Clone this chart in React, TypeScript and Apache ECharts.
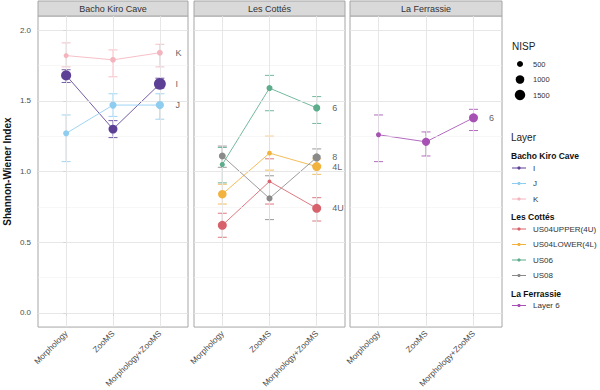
import React, { useEffect, useRef } from 'react';
import * as echarts from 'echarts';

const categories = ['Morphology', 'ZooMS', 'Morphology+ZooMS'];
const sites = ['Bacho Kiro Cave', 'Les Cottés', 'La Ferrassie'];
const yTicks = [0, 0.5, 1, 1.5, 2];
const yMinorTicks = [0.25, 0.75, 1.25, 1.75];
const nispBreaks = [500, 1000, 1500];

const layerNames = ['I', 'J', 'K', 'US04UPPER(4U)', 'US04LOWER(4L)', 'US06', 'US08', 'Layer 6'];
const layerShort = ['I', 'J', 'K', '4U', '4L', '6', '8', '6'];
const layerSite = [0, 0, 0, 1, 1, 1, 1, 2];
const layerColors = ['#5c4096', '#8ecdf0', '#f4b4bd', '#d8626b', '#f2b23e', '#5cad8c', '#8a8a8a', '#a651b3'];

// Shannon-Wiener index per layer: [Morphology, ZooMS, Morphology+ZooMS]
const shannon = [
  [1.68, 1.30, 1.62],
  [1.27, 1.47, 1.47],
  [1.82, 1.79, 1.84],
  [0.62, 0.93, 0.74],
  [0.84, 1.13, 1.035],
  [1.05, 1.59, 1.45],
  [1.11, 0.81, 1.10],
  [1.26, 1.21, 1.38],
];
const shannonLow = [
  [1.63, 1.24, 1.59],
  [1.07, 1.39, 1.37],
  [1.74, 1.67, 1.74],
  [0.535, 0.77, 0.65],
  [0.77, 1.01, 0.98],
  [0.92, 1.43, 1.34],
  [1.03, 0.66, 1.04],
  [1.07, 1.11, 1.29],
];
const shannonHigh = [
  [1.72, 1.36, 1.66],
  [1.40, 1.55, 1.55],
  [1.91, 1.86, 1.90],
  [0.705, 1.09, 0.815],
  [0.91, 1.25, 1.09],
  [1.17, 1.68, 1.53],
  [1.18, 0.97, 1.16],
  [1.40, 1.28, 1.44],
];
const nisp = [
  [1400, 1100, 1950],
  [500, 700, 900],
  [350, 450, 480],
  [1100, 200, 1100],
  [1000, 300, 1100],
  [350, 500, 700],
  [650, 500, 900],
  [350, 900, 1100],
];

const FONT = 'Liberation Sans, Arial, Helvetica, sans-serif';
const sizeOf = (n: number) => 0.27 * Math.sqrt(n);

const panelLeft = [38, 194, 350];
const panelWidth = [150, 151, 152];
const panelTop = 16;
const panelHeight = 320;

export default function App() {
  const ref = useRef<HTMLDivElement>(null);
  useEffect(() => {
    if (!ref.current) return;
    const chart = echarts.init(ref.current, undefined, { renderer: 'svg' });

    const grids = sites.map((_, g) => ({
      left: panelLeft[g],
      top: panelTop,
      width: panelWidth[g],
      height: panelHeight,
      show: true,
      backgroundColor: '#ffffff',
      borderColor: '#a6a6a6',
      borderWidth: 1,
    }));

    const xAxes = sites.map((_, g) => ({
      type: 'value',
      gridIndex: g,
      min: -0.6,
      max: 2.6,
      axisLine: { show: false },
      splitLine: { show: false },
      axisTick: { show: true, customValues: [0, 1, 2], length: 3, lineStyle: { color: '#555' } },
      axisLabel: {
        show: true,
        customValues: [0, 1, 2],
        formatter: (v: number) => categories[Math.round(v)] ?? '',
        rotate: 45,
        fontSize: 8.3,
        color: '#4d4d4d',
        margin: 5,
        fontFamily: FONT,
      },
    }));

    const yAxes = sites.map((_, g) => ({
      type: 'value',
      gridIndex: g,
      min: -0.1,
      max: 2.1,
      axisLine: { show: false },
      splitLine: { show: false },
      name: g === 0 ? 'Shannon-Wiener Index' : '',
      nameLocation: 'middle',
      nameGap: 26,
      nameTextStyle: { fontWeight: 'bold', fontSize: 10, color: '#111', fontFamily: FONT },
      axisTick: { show: g === 0, customValues: yTicks, length: 3, lineStyle: { color: '#555' } },
      axisLabel: {
        show: g === 0,
        customValues: yTicks,
        formatter: (v: number) => v.toFixed(1),
        fontSize: 8,
        color: '#4d4d4d',
        margin: 7,
        fontFamily: FONT,
      },
    }));

    const series: any[] = [];
    sites.forEach((_, g) => {
      series.push({
        type: 'line',
        xAxisIndex: g,
        yAxisIndex: g,
        data: [],
        z: 1,
        silent: true,
        markLine: {
          silent: true,
          symbol: ['none', 'none'],
          label: { show: false },
          animation: false,
          data: [
            ...yMinorTicks.map((v) => ({ yAxis: v, lineStyle: { color: '#f2f2f2', width: 0.6, type: 'solid' } })),
            ...yTicks.map((v) => ({ yAxis: v, lineStyle: { color: '#e4e4e4', width: 0.9, type: 'solid' } })),
            ...categories.map((_, i) => ({ xAxis: i, lineStyle: { color: '#e4e4e4', width: 0.9, type: 'solid' } })),
          ],
        },
      });
    });

    layerNames.forEach((name, k) => {
      const g = layerSite[k];
      const color = layerColors[k];
      series.push({
        type: 'line',
        name,
        xAxisIndex: g,
        yAxisIndex: g,
        data: categories.map((_, i) => [i, shannon[k][i]]),
        symbol: 'none',
        lineStyle: { color, width: 1, opacity: 0.85 },
        z: 3,
      });
      series.push({
        type: 'custom',
        name: name + ' err',
        xAxisIndex: g,
        yAxisIndex: g,
        data: categories.map((_, i) => [i, shannonLow[k][i], shannonHigh[k][i]]),
        encode: { x: 0, y: [1, 2] },
        z: 4,
        renderItem: (params: any, api: any) => {
          const x = api.value(0);
          const lo = api.value(1);
          const hi = api.value(2);
          const pHi = api.coord([x, hi]);
          const pLo = api.coord([x, lo]);
          const w = 4.5;
          const st = { stroke: color, lineWidth: 1, opacity: 0.85 };
          return {
            type: 'group',
            children: [
              { type: 'line', shape: { x1: pHi[0], y1: pHi[1], x2: pLo[0], y2: pLo[1] }, style: st },
              { type: 'line', shape: { x1: pHi[0] - w, y1: pHi[1], x2: pHi[0] + w, y2: pHi[1] }, style: st },
              { type: 'line', shape: { x1: pLo[0] - w, y1: pLo[1], x2: pLo[0] + w, y2: pLo[1] }, style: st },
            ],
          };
        },
      });
      series.push({
        type: 'scatter',
        name: name + ' pts',
        xAxisIndex: g,
        yAxisIndex: g,
        data: categories.map((_, i) => [i, shannon[k][i], nisp[k][i]]),
        symbol: 'circle',
        symbolSize: (val: number[]) => sizeOf(val[2]),
        itemStyle: { color, opacity: 1 },
        z: 5,
      });
      const last = categories.length - 1;
      series.push({
        type: 'scatter',
        name: name + ' lbl',
        xAxisIndex: g,
        yAxisIndex: g,
        data: [[last, shannon[k][last]]],
        symbol: 'circle',
        symbolSize: 1,
        itemStyle: { color: 'rgba(0,0,0,0)' },
        z: 6,
        label: {
          show: true,
          position: 'right',
          distance: 15,
          formatter: () => layerShort[k],
          fontSize: 9,
          color: '#333',
          fontFamily: FONT,
        },
      });
    });

    const graphic: any[] = [];
    sites.forEach((s, g) => {
      graphic.push({
        type: 'rect',
        shape: { x: panelLeft[g], y: 1, width: panelWidth[g], height: panelTop - 1 },
        style: { fill: '#d9d9d9', stroke: '#a6a6a6', lineWidth: 1 },
      });
      graphic.push({
        type: 'text',
        x: panelLeft[g] + panelWidth[g] / 2,
        y: 1 + (panelTop - 1) / 2,
        style: { text: s, fontSize: 9, fill: '#333', align: 'center', verticalAlign: 'middle', fontFamily: FONT },
      });
    });

    // NISP legend
    graphic.push({
      type: 'text', x: 512, y: 46,
      style: { text: 'NISP', fontSize: 10, fill: '#222', verticalAlign: 'middle', fontFamily: FONT },
    });
    nispBreaks.forEach((b, i) => {
      const y = 64 + i * 15.5;
      graphic.push({ type: 'circle', shape: { cx: 520, cy: y, r: sizeOf(b) / 2 }, style: { fill: '#000' } });
      graphic.push({
        type: 'text', x: 533, y,
        style: { text: String(b), fontSize: 7.5, fill: '#333', verticalAlign: 'middle', fontFamily: FONT },
      });
    });

    // Layer legend
    graphic.push({
      type: 'text', x: 511, y: 137,
      style: { text: 'Layer', fontSize: 10, fill: '#222', verticalAlign: 'middle', fontFamily: FONT },
    });
    let y = 156;
    sites.forEach((s, g) => {
      graphic.push({
        type: 'text', x: 511, y,
        style: { text: s, fontSize: 8.5, fontWeight: 'bold', fill: '#111', verticalAlign: 'middle', fontFamily: FONT },
      });
      y += 12;
      layerNames.forEach((name, k) => {
        if (layerSite[k] !== g) return;
        const c = layerColors[k];
        graphic.push({ type: 'line', shape: { x1: 512, y1: y, x2: 526, y2: y }, style: { stroke: c, lineWidth: 1 } });
        graphic.push({ type: 'circle', shape: { cx: 519, cy: y, r: 1.6 }, style: { fill: c } });
        graphic.push({
          type: 'text', x: 533, y,
          style: { text: name, fontSize: 8, fill: '#333', verticalAlign: 'middle', fontFamily: FONT },
        });
        y += 15.5;
      });
      y += 2.5;
    });

    chart.setOption({
      animation: false,
      backgroundColor: '#ffffff',
      textStyle: { fontFamily: FONT },
      grid: grids,
      xAxis: xAxes,
      yAxis: yAxes,
      series,
      graphic,
    });
    return () => chart.dispose();
  }, []);
  return (
    <div
      ref={ref}
      style={{ position: 'fixed', left: 0, top: 0, width: 600, height: 390, background: '#fff' }}
    />
  );
}
